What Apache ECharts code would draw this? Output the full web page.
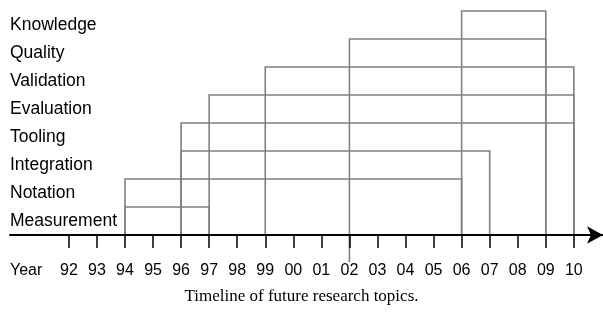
<!DOCTYPE html>
<html>
<head>
<meta charset="utf-8">
<script src="https://cdn.jsdelivr.net/npm/echarts@6/dist/echarts.min.js"></script>
<style>html,body{margin:0;padding:0;background:#fff}#c{width:603px;height:322px}</style>
</head>
<body>
<div id="c"></div>
<script>
// Data
const topics = ['Measurement', 'Notation', 'Integration', 'Tooling', 'Evaluation', 'Validation', 'Quality', 'Knowledge'];
const startYears = [1994, 1994, 1996, 1996, 1997, 1999, 2002, 2006];
const endYears = [1997, 2006, 2007, 2010, 2010, 2010, 2009, 2009];
const years = [1992, 1993, 1994, 1995, 1996, 1997, 1998, 1999, 2000, 2001, 2002, 2003, 2004, 2005, 2006, 2007, 2008, 2009, 2010];
const extendedYears = [2002];
const rowCenters = topics.map((t, i) => i + 0.5);

const chart = echarts.init(document.getElementById('c'), null, {renderer: 'canvas'});

const rectData = topics.map((t, i) => [startYears[i], endYears[i], i + 1]);
const greyLine = '#808080';

chart.setOption({
  animation: false,
  title: {
    text: 'Timeline of future research topics.',
    left: 'center',
    top: 283,
    textStyle: {fontFamily: 'Liberation Serif', fontSize: 17, fontWeight: 'normal', color: '#000'}
  },
  graphic: [{
    type: 'text', left: 10, top: 263,
    style: {text: 'Year', font: '16px "Liberation Sans"', fill: '#000'}
  }],
  grid: {left: 10, right: 0, top: 11, bottom: 87, containLabel: false},
  xAxis: {
    type: 'value', min: 1989.9, max: 2011.04, z: 10,
    splitLine: {show: false},
    axisLine: {show: true, onZero: false, symbol: ['none', 'arrow'], symbolSize: [13, 16],
      lineStyle: {color: '#000', width: 2}},
    axisTick: {show: true, customValues: years, length: 13, lineStyle: {color: '#000', width: 1.5}},
    axisLabel: {customValues: years, margin: 28, fontSize: 16, fontFamily: 'Liberation Sans', color: '#000',
      formatter: v => String(Math.round(v) % 100).padStart(2, '0')}
  },
  yAxis: {
    type: 'value', min: 0, max: 8,
    splitLine: {show: false}, axisLine: {show: false}, axisTick: {show: false},
    axisLabel: {customValues: rowCenters, align: 'left', margin: 0, fontSize: 17.5,
      fontFamily: 'Liberation Sans', color: '#000',
      formatter: v => topics[Math.round(v - 0.5)]}
  },
  series: [{
    type: 'custom', clip: false, z: 2,
    data: rectData,
    renderItem: (params, api) => {
      const p0 = api.coord([api.value(0), 0]);
      const p1 = api.coord([api.value(1), api.value(2)]);
      return {
        type: 'rect',
        shape: {x: p0[0], y: p1[1], width: p1[0] - p0[0], height: p0[1] - p1[1]},
        style: {fill: 'none', stroke: greyLine, lineWidth: 1.6}
      };
    }
  }, {
    type: 'custom', clip: false, z: 1,
    data: extendedYears.map(y => [y]),
    renderItem: (params, api) => {
      const p = api.coord([api.value(0), 0]);
      return {
        type: 'line',
        shape: {x1: p[0], y1: p[1], x2: p[0], y2: p[1] + 27},
        style: {stroke: greyLine, lineWidth: 1.6}
      };
    }
  }]
});
</script>
</body>
</html>
